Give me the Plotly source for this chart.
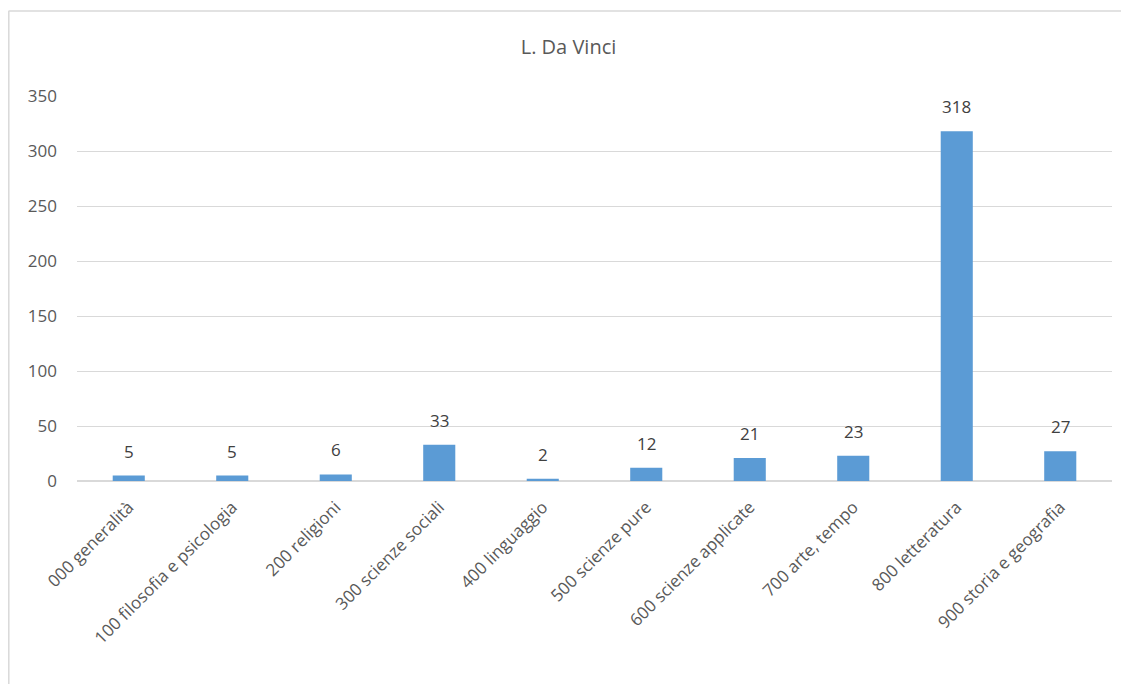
import plotly.graph_objects as go

categories = ["000 generalità", "100 filosofia e psicologia", "200 religioni",
              "300 scienze sociali", "400 linguaggio", "500 scienze pure",
              "600 scienze applicate", "700 arte, tempo", "800 letteratura",
              "900 storia e geografia"]
values = [5, 5, 6, 33, 2, 12, 21, 23, 318, 27]
title_text = "L. Da Vinci"
y_ticks = [0, 50, 100, 150, 200, 250, 300, 350]

FONT = "Open Sans, Noto Sans, sans-serif"
OFF = 8  # page body margin
W, H = 1129 - OFF, 684 - OFF
ML, MR, MT, MB = 77 - OFF, 17, 96 - OFF, 203
pw, ph = W - ML - MR, H - MT - MB

fig = go.Figure()
fig.add_trace(go.Bar(x=categories, y=values, marker=dict(color="#5B9BD5", line=dict(width=0)),
                     hoverinfo="x+y"))

for c, v in zip(categories, values):
    fig.add_annotation(x=c, y=v, text=str(v), showarrow=False, yanchor="bottom",
                       yshift=11, font=dict(family=FONT, size=17, color="#404040"))

def px_x(x):
    return (x - OFF - ML) / pw

def px_y(y):
    return (H - MB - (y - OFF)) / ph

shapes = [
    dict(type="line", xref="paper", yref="paper", x0=px_x(8.5), x1=px_x(1140), y0=px_y(11), y1=px_y(11),
         line=dict(color="#D9D9D9", width=1.5)),
    dict(type="line", xref="paper", yref="paper", x0=px_x(8.8), x1=px_x(8.8), y0=px_y(11), y1=px_y(700),
         line=dict(color="#D9D9D9", width=1.5)),
]

fig.update_layout(
    width=W, height=H,
    margin=dict(l=ML, r=MR, t=MT, b=MB),
    paper_bgcolor="white", plot_bgcolor="white",
    bargap=0.69,
    showlegend=False,
    shapes=shapes,
    title=dict(text=title_text, x=0.5, xanchor="center", y=1 - (47 - OFF) / H, yanchor="middle",
               font=dict(family=FONT, size=20, color="#595959")),
    xaxis=dict(tickangle=-45, tickfont=dict(family=FONT, size=17, color="#595959"),
               showgrid=False, showline=False, ticks="", zeroline=False, ticklabelstandoff=12),
    yaxis=dict(range=[0, 350], tickvals=y_ticks, showgrid=True, gridcolor="#D9D9D9", gridwidth=1,
               zeroline=True, zerolinecolor="#D9D9D9", zerolinewidth=1.5,
               ticks="", tickfont=dict(family=FONT, size=17, color="#595959"), ticklabelstandoff=19),
)

fig.write_html("out.html")
